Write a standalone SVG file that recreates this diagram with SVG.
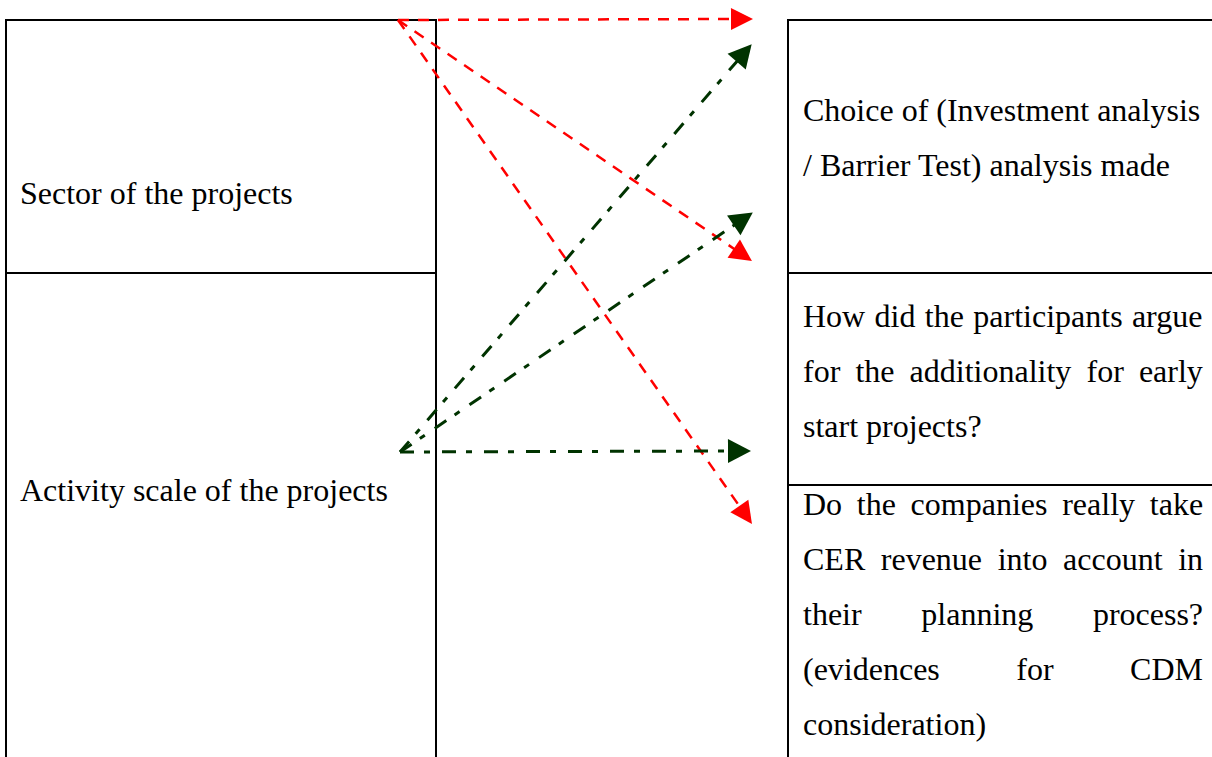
<svg xmlns="http://www.w3.org/2000/svg" width="1212" height="757" viewBox="0 0 1212 757">
<style>
.box{fill:none;stroke:#000;stroke-width:2}
.t{font-family:"Liberation Serif","Times New Roman",serif;font-size:32px;fill:#000}
.red{fill:none;stroke:#FF0000;stroke-width:2.5;stroke-dasharray:11 9}
.grn{fill:none;stroke:#003300;stroke-width:3;stroke-dasharray:14 10 6 12}
</style>
<defs>
<marker id="ahR" markerUnits="userSpaceOnUse" markerWidth="24" markerHeight="24" refX="1" refY="11" orient="auto" overflow="visible">
<path d="M0,0 L22,11 L0,22 z" fill="#FF0000"/>
</marker>
<marker id="ahG" markerUnits="userSpaceOnUse" markerWidth="26" markerHeight="26" refX="1" refY="12" orient="auto" overflow="visible">
<path d="M0,0 L23,12 L0,24 z" fill="#003300"/>
</marker>
</defs>
<rect width="1212" height="757" fill="#fff"/>

<g id="node-sector">
<path class="box" d="M6,800 V20 H436 V273 H6"/>
<text class="t" x="20" y="204">Sector of the projects</text>
</g>
<g id="node-activity">
<path class="box" d="M6,273 V800 M436,273 V800"/>
<text class="t" x="20" y="501">Activity scale of the projects</text>
</g>

<g id="node-choice">
<path class="box" d="M788,800 V20 H1220 M788,273 H1220"/>
<text class="t" x="803" y="121">Choice of (Investment analysis</text>
<text class="t" x="803" y="176">/ Barrier Test) analysis made</text>
</g>
<g id="node-how">
<path class="box" d="M788,485 H1220"/>
<text class="t" y="327"><tspan x="803">How</tspan><tspan x="874.6">did</tspan><tspan x="924.8">the</tspan><tspan x="973.3">participants</tspan><tspan x="1131.9">argue</tspan></text>
<text class="t" y="382"><tspan x="803">for</tspan><tspan x="855.4">the</tspan><tspan x="909.6">additionality</tspan><tspan x="1086.5">for</tspan><tspan x="1138.9">early</tspan></text>
<text class="t" x="803" y="437">start projects?</text>
</g>
<g id="node-cer">
<text class="t" y="515"><tspan x="803">Do</tspan><tspan x="856.8">the</tspan><tspan x="910.6">companies</tspan><tspan x="1062.2">really</tspan><tspan x="1149.8">take</tspan></text>
<text class="t" y="570"><tspan x="803">CER</tspan><tspan x="880.8">revenue</tspan><tspan x="997.7">into</tspan><tspan x="1063.1">account</tspan><tspan x="1178.2">in</tspan></text>
<text class="t" y="625"><tspan x="803">their</tspan><tspan x="921.3">planning</tspan><tspan x="1092.9">process?</tspan></text>
<text class="t" y="680"><tspan x="803">(evidences</tspan><tspan x="1016.3">for</tspan><tspan x="1130.1">CDM</tspan></text>
<text class="t" x="803" y="735">consideration)</text>
</g>

<g id="connectors">
<line class="red" x1="398" y1="20" x2="732" y2="19" marker-end="url(#ahR)"/>
<line class="red" x1="398" y1="20" x2="734.6" y2="249.2" marker-end="url(#ahR)"/>
<line class="red" x1="398" y1="20" x2="739.9" y2="506.8" marker-end="url(#ahR)"/>
<line class="grn" x1="400" y1="452" x2="737.3" y2="60.9" marker-end="url(#ahG)"/>
<line class="grn" x1="400" y1="452" x2="734.6" y2="224.8" marker-end="url(#ahG)"/>
<line class="grn" x1="400" y1="452" x2="729" y2="451" marker-end="url(#ahG)"/>
</g>
</svg>
